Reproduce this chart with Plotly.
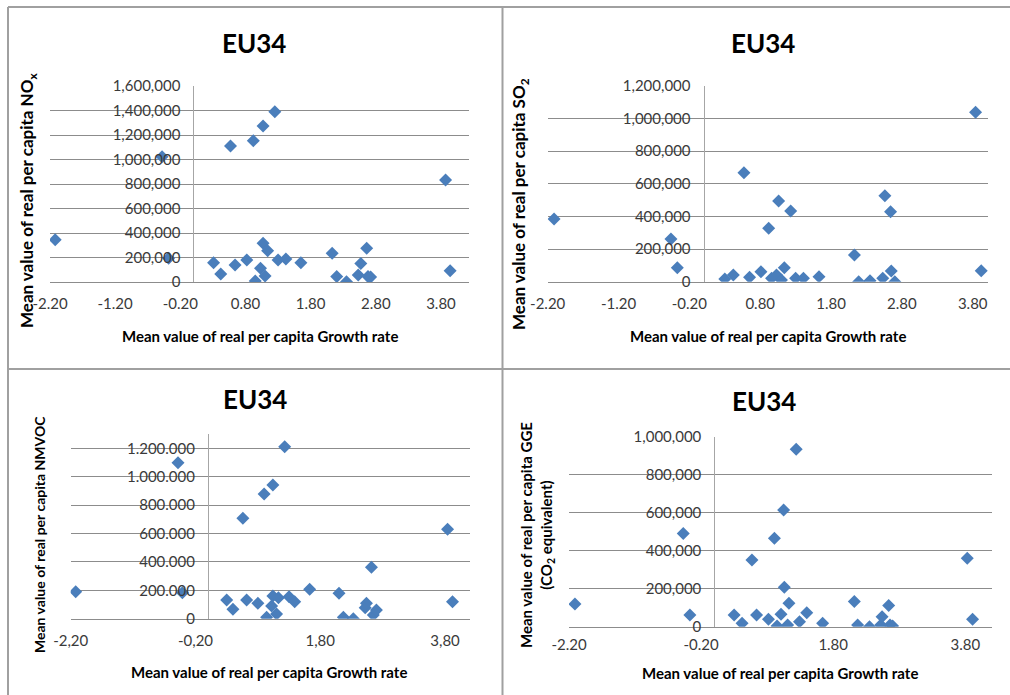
import plotly.graph_objects as go

W, H = 1010, 695

# ---------------- data ----------------
nox_x = [-2.12, -0.48, -0.38, 0.31, 0.42, 0.57, 0.64, 0.82, 0.92, 0.95, 1.03, 1.07, 1.07, 1.10, 1.14,
         1.25, 1.30, 1.42, 1.65, 2.13, 2.20, 2.35, 2.53, 2.57, 2.66, 2.68, 2.72, 3.87, 3.94]
nox_y = [345000, 1023000, 193000, 158000, 65000, 1110000, 139000, 180000, 1153000, 8000, 112000, 1273000,
         316000, 49000, 256000, 1390000, 180000, 188000, 158000, 234000, 44000, 3000, 57000, 152000,
         275000, 44000, 40000, 833000, 92000]

so2_x = [-2.11, -0.46, -0.37, 0.30, 0.42, 0.57, 0.65, 0.81, 0.92, 0.96, 1.03, 1.06, 1.10, 1.14, 1.23,
         1.30, 1.41, 1.63, 2.13, 2.19, 2.35, 2.53, 2.56, 2.64, 2.65, 2.70, 3.84, 3.92]
so2_y = [385000, 262000, 86000, 17000, 41000, 668000, 27000, 61000, 327000, 21000, 41000, 495000, 10000,
         86000, 434000, 21000, 21000, 31000, 164000, 0, 6000, 21000, 527000, 429000, 65000, 0, 1039000, 67000]

nmvoc_x = [-2.12, -0.48, -0.41, 0.30, 0.40, 0.56, 0.62, 0.80, 0.90, 0.94, 1.02, 1.04, 1.04, 1.10, 1.13,
           1.23, 1.30, 1.39, 1.63, 2.10, 2.17, 2.33, 2.52, 2.54, 2.62, 2.65, 2.70, 3.84, 3.92]
nmvoc_y = [190000, 1099000, 183000, 132000, 66000, 707000, 132000, 108000, 879000, 10000, 89000, 942000,
           160000, 33000, 148000, 1212000, 155000, 120000, 207000, 179000, 10000, 0, 78000, 108000,
           362000, 26000, 61000, 630000, 120000]

gge_x = [-2.11, -0.47, -0.37, 0.30, 0.42, 0.57, 0.64, 0.82, 0.91, 0.95, 1.01, 1.05, 1.06, 1.11, 1.13,
         1.24, 1.29, 1.40, 1.64, 2.12, 2.17, 2.35, 2.52, 2.54, 2.64, 2.66, 2.70, 3.83, 3.91]
gge_y = [119000, 491000, 62000, 62000, 18000, 351000, 62000, 39000, 465000, 4000, 65000, 614000, 207000,
         9000, 123000, 934000, 26000, 74000, 18000, 132000, 9000, 0, 9000, 53000, 112000, 9000, 4000,
         360000, 39000]

x_ticks_full = [-2.2, -1.2, -0.2, 0.8, 1.8, 2.8, 3.8]
x_ticks_half = [-2.2, -0.2, 1.8, 3.8]
nox_yticks = [0, 200000, 400000, 600000, 800000, 1000000, 1200000, 1400000, 1600000]
so2_yticks = [0, 200000, 400000, 600000, 800000, 1000000, 1200000]
nmvoc_yticks = [0, 200000, 400000, 600000, 800000, 1000000, 1200000]
gge_yticks = [0, 200000, 400000, 600000, 800000, 1000000]

panel_title = "EU34"
x_title = "Mean value of real per capita Growth rate"
y_titles = ["Mean value of real per capita NO<sub>x</sub>",
            "Mean value of real per capita SO<sub>2</sub>",
            "Mean value of real per capita NMVOC",
            "Mean value of real per capita GGE<br>(CO<sub>2</sub> equivalent)"]


def en_num(v):
    return f"{v:,.0f}"


def eu_num(v):
    return f"{v:,.0f}".replace(",", ".")


def en_dec(v):
    return f"{v:.2f}"


def eu_dec(v):
    return f"{v:.2f}".replace(".", ",")


# ---------------- layout helpers ----------------
def px(x):
    return x / W


def py(y):
    return 1 - y / H


FONT = "Lato, 'Open Sans', sans-serif"
BLUE = "#4A7EBB"
GRID = "#8C8C8C"
AXLINE = "#A6A6A6"

panels = [
    # (xs, ys, x px domain, xrange, y px domain (top,bottom), yrange, xticks, xfmt, yticks, yfmt)
    (nox_x, nox_y, (50, 469), (-2.2, 4.23), (86, 282), (0, 1600000), x_ticks_full, en_dec, nox_yticks, en_num),
    (so2_x, so2_y, (547.7, 988.3), (-2.2, 4.02), (86, 281.7), (0, 1200000), x_ticks_full, en_dec, so2_yticks, en_num),
    (nmvoc_x, nmvoc_y, (70.7, 470), (-2.2, 4.2), (434.2, 618.7), (0, 1300000), x_ticks_half, eu_dec, nmvoc_yticks, eu_num),
    (gge_x, gge_y, (569, 991.7), (-2.2, 4.2), (436.7, 626.7), (0, 1000000), x_ticks_half, en_dec, gge_yticks, en_num),
]
xtick_len = [8, 8, 8, 4]

fig = go.Figure()
layout = {}
for i, (xs, ys, xd, xr, yd, yr, xt, xf, yt, yf) in enumerate(panels, start=1):
    xa = "x" if i == 1 else f"x{i}"
    ya = "y" if i == 1 else f"y{i}"
    fig.add_trace(go.Scatter(
        x=xs, y=ys, mode="markers", xaxis=xa, yaxis=ya, showlegend=False,
        marker=dict(symbol="diamond", size=10, color=BLUE, line=dict(width=0)),
        hoverinfo="x+y"))
    x0_px = xd[0] + (0 - xr[0]) / (xr[1] - xr[0]) * (xd[1] - xd[0])
    xkey = "xaxis" if i == 1 else f"xaxis{i}"
    ykey = "yaxis" if i == 1 else f"yaxis{i}"
    layout[xkey] = dict(
        domain=[px(xd[0]), px(xd[1])], range=list(xr), anchor=ya,
        showgrid=False, zeroline=False, showline=True, linecolor=GRID, linewidth=1,
        tickmode="array", tickvals=xt, ticktext=[xf(v) for v in xt],
        ticks="outside", ticklen=xtick_len[i - 1], tickcolor="rgba(0,0,0,0)",
        tickfont=dict(family=FONT, size=15, color="#3a3a3a"), automargin=False)
    layout[ykey] = dict(
        domain=[py(yd[1]), py(yd[0])], range=list(yr), anchor="free", position=px(x0_px),
        showgrid=True, gridcolor=GRID, gridwidth=1, zeroline=False,
        showline=True, linecolor=AXLINE, linewidth=1,
        tickmode="array", tickvals=yt, ticktext=[yf(v) for v in yt],
        ticks="outside", ticklen=10, tickcolor="rgba(0,0,0,0)",
        tickfont=dict(family=FONT, size=15, color="#3a3a3a"), automargin=False)

annotations = []
# panel titles
for (cx, cy) in [(254, 43), (763, 43), (255, 399), (764, 401)]:
    annotations.append(dict(text=f"<b>{panel_title}</b>", x=px(cx), y=py(cy), xref="paper", yref="paper",
                            showarrow=False, xanchor="center", yanchor="middle",
                            font=dict(family=FONT, size=26, color="#000")))
# x titles
for (cx, cy) in [(260, 336), (768, 336), (269, 672), (780, 673)]:
    annotations.append(dict(text=f"<b>{x_title}</b>", x=px(cx), y=py(cy), xref="paper", yref="paper",
                            showarrow=False, xanchor="center", yanchor="middle",
                            font=dict(family=FONT, size=15, color="#000")))
# y titles
ypos = [(28, 201, 17), (520, 204, 17), (39, 535, 14), (537, 535, 15)]
for t, (cx, cy, fs) in zip(y_titles, ypos):
    annotations.append(dict(text=f"<b>{t}</b>", x=px(cx), y=py(cy), xref="paper", yref="paper",
                            showarrow=False, xanchor="center", yanchor="middle", textangle=-90,
                            font=dict(family=FONT, size=fs, color="#000")))

# panel frames
BORDER = "#A0A0A0"
shapes = []
for (x0, y0, x1, y1) in [(8, 7, 1010, 7), (8, 369, 1010, 369), (8, 7, 8, 695), (502.5, 7, 502.5, 695)]:
    shapes.append(dict(type="line", xref="paper", yref="paper", x0=px(x0), y0=py(y0), x1=px(x1), y1=py(y1),
                       line=dict(color=BORDER, width=2)))

fig.update_layout(
    width=W, height=H, margin=dict(l=0, r=0, t=0, b=0, pad=0, autoexpand=False),
    paper_bgcolor="white", plot_bgcolor="white",
    annotations=annotations, shapes=shapes, showlegend=False,
    **layout)

fig.write_html("out.html", config={"displayModeBar": False},
               post_script="document.body.style.margin='0px';document.body.style.overflow='hidden';")
